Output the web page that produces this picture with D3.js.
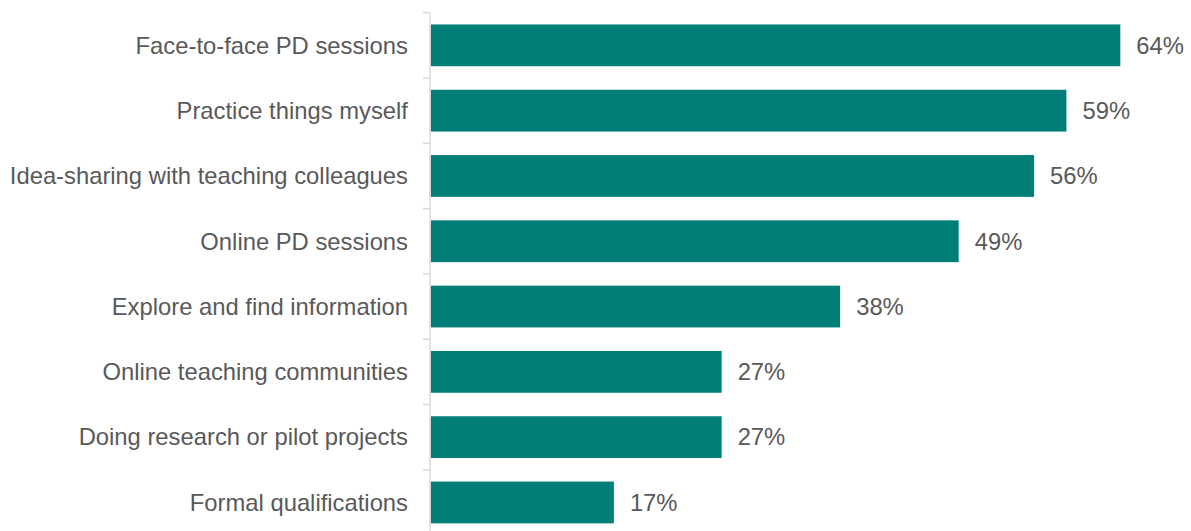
<!DOCTYPE html>
<html>
<head>
<meta charset="utf-8">
<script src="https://cdn.jsdelivr.net/npm/d3@7"></script>
<style>
  html, body { margin: 0; padding: 0; background: #ffffff; }
  svg { display: block; }
  text { font-family: "Liberation Sans", Arial, sans-serif; fill: #595959; }
</style>
</head>
<body>
<svg id="chart" width="1191" height="531"></svg>
<script>
// Ways teachers prefer to develop their skills (share of respondents, %)
const categories = [
  "Face-to-face PD sessions",
  "Practice things myself",
  "Idea-sharing with teaching colleagues",
  "Online PD sessions",
  "Explore and find information",
  "Online teaching communities",
  "Doing research or pilot projects",
  "Formal qualifications"
];
const values = [64, 59, 56, 49, 38, 27, 27, 17];
const valueLabels = ["64%", "59%", "56%", "49%", "38%", "27%", "27%", "17%"];

const svg = d3.select("#chart");
const axisX = 430;
const plotTop = 12.7, plotBottom = 535.1;

const x = d3.scaleLinear().domain([0, 70]).range([axisX + 0.7, axisX + 0.7 + 70 * 10.775]);

// band scale for the bars (centred in each slot)
const y = d3.scaleBand()
  .domain(categories)
  .range([plotTop, plotBottom])
  .paddingInner(0.36)
  .paddingOuter(0.18);

// slot boundaries for the tick marks
const slots = d3.scaleBand().domain(categories).range([plotTop, plotBottom]).padding(0);

const data = categories.map((c, i) => ({ c, v: values[i], label: valueLabels[i] }));

// bars
svg.append("g").selectAll("rect")
  .data(data)
  .join("rect")
  .attr("x", x(0))
  .attr("y", d => y(d.c))
  .attr("width", d => x(d.v) - x(0))
  .attr("height", y.bandwidth())
  .attr("fill", "#017e78");

// vertical category axis
const axis = svg.append("g");
axis.append("line")
  .attr("x1", axisX).attr("x2", axisX)
  .attr("y1", plotTop).attr("y2", plotBottom)
  .attr("stroke", "#d9d9d9").attr("stroke-width", 1.5);
axis.selectAll("line.tick")
  .data(categories.concat(["__end"]))
  .join("line")
  .attr("class", "tick")
  .attr("x1", axisX - 7).attr("x2", axisX)
  .attr("y1", (d, i) => plotTop + i * slots.step())
  .attr("y2", (d, i) => plotTop + i * slots.step())
  .attr("stroke", "#d9d9d9").attr("stroke-width", 1.5);

// category labels
svg.append("g").selectAll("text")
  .data(data)
  .join("text")
  .attr("x", axisX - 22)
  .attr("y", d => y(d.c) + y.bandwidth() / 2)
  .attr("dy", "0.35em")
  .attr("text-anchor", "end")
  .style("font-size", "23.8px")
  .text(d => d.c);

// value labels
svg.append("g").selectAll("text")
  .data(data)
  .join("text")
  .attr("x", d => x(d.v) + 16)
  .attr("y", d => y(d.c) + y.bandwidth() / 2)
  .attr("dy", "0.35em")
  .attr("text-anchor", "start")
  .style("font-size", "23.8px")
  .text(d => d.label);
</script>
</body>
</html>
